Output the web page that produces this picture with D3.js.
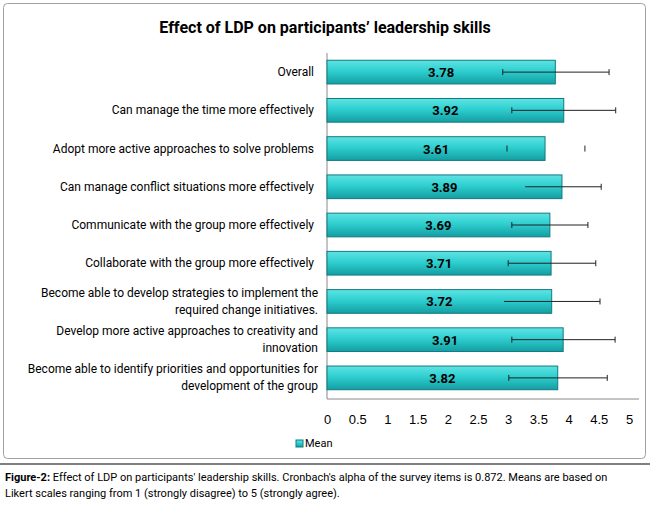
<!DOCTYPE html>
<html><head><meta charset="utf-8">
<script src="https://cdn.jsdelivr.net/npm/d3@7"></script>
<style>body{margin:0;background:#fff;font-family:Roboto,"Liberation Sans",sans-serif;}</style>
</head><body><div id="c"></div>
<script>
const categories = [
  ["Overall"],
  ["Can manage the time more effectively"],
  ["Adopt more active approaches to solve problems"],
  ["Can manage conflict situations more effectively"],
  ["Communicate with the group more effectively"],
  ["Collaborate with the group more effectively"],
  ["Become able to develop strategies to implement the","required change initiatives."],
  ["Develop more active approaches to creativity and","innovation"],
  ["Become able to identify priorities and opportunities for","development of the group"]
];
const means = [3.78, 3.92, 3.61, 3.89, 3.69, 3.71, 3.72, 3.91, 3.82];
const errLo = [2.91, 3.06, 2.98, 3.28, 3.06, 3.00, 2.93, 3.06, 3.01];
const errHi = [4.67, 4.78, 4.27, 4.54, 4.32, 4.45, 4.52, 4.77, 4.64];
const loCap = [true, true, true, false, true, true, false, true, true];
const lineShown = [true, true, false, true, true, true, true, true, true];
const ticks = [0, 0.5, 1, 1.5, 2, 2.5, 3, 3.5, 4, 4.5, 5];

const rows = means.map((m,i)=>({i, m, lo: errLo[i], hi: errHi[i], cap: loCap[i], line: lineShown[i]}));

const W = 650, H = 505;
const svg = d3.select("#c").append("svg").attr("width", W).attr("height", H);
const defs = svg.append("defs");
const g = defs.append("linearGradient").attr("id","bg").attr("x1",0).attr("y1",0).attr("x2",0).attr("y2",1);
g.append("stop").attr("offset","0%").attr("stop-color","#5fe3e3");
g.append("stop").attr("offset","45%").attr("stop-color","#2fcfd0");
g.append("stop").attr("offset","100%").attr("stop-color","#139ea2");

svg.append("rect").attr("x",3.5).attr("y",3.5).attr("width",642).attr("height",455)
  .attr("fill","#fff").attr("stroke","#a0a0a0").attr("rx",4);

svg.append("text").attr("x",325).attr("y",33).attr("text-anchor","middle")
  .style("font-size","16px").style("font-weight","bold").text("Effect of LDP on participants’ leadership skills");

const x = d3.scaleLinear().domain([0,5]).range([327,629]);
const y = d3.scaleBand().domain(d3.range(categories.length)).range([53,397]).paddingInner(0.38).paddingOuter(0.19);

svg.append("line").attr("x1",x(0)).attr("x2",x(0)).attr("y1",53).attr("y2",399).attr("stroke","#888");
svg.append("line").attr("x1",x(0)).attr("x2",x(5)+10).attr("y1",399).attr("y2",399).attr("stroke","#888");

const xAxis = d3.axisBottom(x).tickValues(ticks).tickSize(0).tickFormat(d3.format("~g"));
const ax = svg.append("g").attr("transform","translate(0,412)").call(xAxis);
ax.select(".domain").remove();
ax.selectAll("text").style("font-size","13px").style("font-family","inherit").attr("fill","#000");

svg.selectAll("rect.bar").data(rows).join("rect").attr("class","bar")
  .attr("x",x(0)).attr("y",d=>y(d.i)).attr("width",d=>x(d.m)-x(0)).attr("height",y.bandwidth())
  .attr("fill","url(#bg)").attr("stroke","#127a80").attr("stroke-width",1);

svg.selectAll("text.val").data(rows).join("text").attr("class","val")
  .attr("x",d=>(x(0)+x(d.m))/2).attr("y",d=>y(d.i)+y.bandwidth()/2+5)
  .attr("text-anchor","middle").style("font-size","13px").style("font-weight","bold")
  .text(d=>d.m.toFixed(2));

const eb = svg.selectAll("g.err").data(rows).join("g").attr("class","err")
  .attr("transform",d=>`translate(0,${y(d.i)+y.bandwidth()/2})`);
eb.filter(d=>d.line).append("line").attr("x1",d=>x(d.lo)).attr("x2",d=>x(d.hi)).attr("stroke","#222");
eb.filter(d=>d.cap).append("line").attr("x1",d=>x(d.lo)).attr("x2",d=>x(d.lo)).attr("y1",-3).attr("y2",3).attr("stroke","#222");
eb.append("line").attr("x1",d=>x(d.hi)).attr("x2",d=>x(d.hi)).attr("y1",-3).attr("y2",3).attr("stroke","#222");

const lab = svg.selectAll("text.cat").data(categories).join("text").attr("class","cat")
  .attr("text-anchor","end").style("font-size","12px");
lab.each(function(lines,i){
  const t = d3.select(this);
  const cy = y(i)+y.bandwidth()/2;
  const y0 = cy + 4 - (lines.length-1)*8.5;
  lines.forEach((l,k)=>t.append("tspan").attr("x",lines.length>1?318:314).attr("y",y0+k*17).text(l));
});

const leg = svg.append("g").attr("transform","translate(296,440)");
leg.append("rect").attr("width",7).attr("height",7).attr("fill","url(#bg)").attr("stroke","#127a80");
leg.append("text").attr("x",9).attr("y",7).style("font-size","11px").text("Mean");

svg.append("line").attr("x1",0).attr("x2",W).attr("y1",464).attr("y2",464).attr("stroke","#555").attr("stroke-width",1.5);
const cap = svg.append("text").style("font-size","11px");
const t1 = cap.append("tspan").attr("x",5).attr("y",481);
t1.append("tspan").style("font-weight","bold").text("Figure-2:");
t1.append("tspan").text(" Effect of LDP on participants' leadership skills. Cronbach's alpha of the survey items is 0.872. Means are based on");
cap.append("tspan").attr("x",5).attr("y",497).text("Likert scales ranging from 1 (strongly disagree) to 5 (strongly agree).");
</script></body></html>
